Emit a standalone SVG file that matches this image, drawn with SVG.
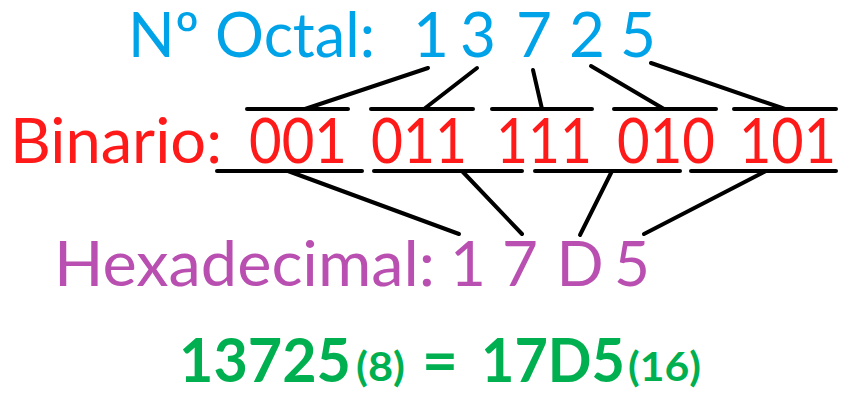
<svg xmlns="http://www.w3.org/2000/svg" width="850" height="400" viewBox="0 0 850 400">
<style>
text{font-family:Lato,"Liberation Sans",sans-serif;}
.oct{fill:#00A2E8;font-size:62px;}
.bin{fill:#FF1A1A;font-size:62px;}
.hex{fill:#B94FB0;font-size:62px;}
.res{fill:#00B050;font-weight:bold;font-size:62px;}
.sub{fill:#00B050;font-weight:bold;font-size:40px;}
.c{text-anchor:middle;}
.ln line{stroke:#000;stroke-width:4;stroke-linecap:round;}
</style>
<rect width="850" height="400" fill="#fff"/>
<g id="octal">
<text class="oct" x="128" y="57" textLength="247" lengthAdjust="spacingAndGlyphs">Nº Octal:</text>
<text class="oct c" x="431" y="57">1</text>
<text class="oct c" x="478" y="57">3</text>
<text class="oct c" x="534" y="57">7</text>
<text class="oct c" x="587" y="57">2</text>
<text class="oct c" x="638" y="57">5</text>
</g>
<g id="binario">
<text class="bin" x="10" y="163" textLength="212" lengthAdjust="spacingAndGlyphs">Binario:</text>
<text class="bin" x="249" y="163" textLength="98" lengthAdjust="spacingAndGlyphs">001</text>
<text class="bin" x="371" y="163" textLength="96" lengthAdjust="spacingAndGlyphs">011</text>
<text class="bin" x="496" y="163" textLength="96" lengthAdjust="spacingAndGlyphs">111</text>
<text class="bin" x="617" y="163" textLength="98" lengthAdjust="spacingAndGlyphs">010</text>
<text class="bin" x="739" y="163" textLength="97" lengthAdjust="spacingAndGlyphs">101</text>
</g>
<g id="hexadecimal">
<text class="hex" x="54" y="286" textLength="381" lengthAdjust="spacingAndGlyphs">Hexadecimal:</text>
<text class="hex c" x="468" y="286">1</text>
<text class="hex c" x="520" y="286">7</text>
<text class="hex c" x="580" y="286">D</text>
<text class="hex c" x="632" y="286">5</text>
</g>
<g id="resultado">
<text class="res" x="179" y="382" textLength="172" lengthAdjust="spacingAndGlyphs">13725</text>
<text class="sub" x="356" y="381" textLength="49" lengthAdjust="spacingAndGlyphs">(8)</text>
<text class="res c" x="440" y="382">=</text>
<text class="res" x="481" y="382" textLength="144" lengthAdjust="spacingAndGlyphs">17D5</text>
<text class="sub" x="628" y="381" textLength="73" lengthAdjust="spacingAndGlyphs">(16)</text>
</g>
<g id="connectors" class="ln">
<line x1="247" y1="109" x2="348" y2="109"/>
<line x1="371" y1="109" x2="473" y2="109"/>
<line x1="492" y1="109" x2="592" y2="109"/>
<line x1="614" y1="109" x2="716" y2="109"/>
<line x1="734" y1="109" x2="836" y2="109"/>
<line x1="217" y1="171" x2="362" y2="171"/>
<line x1="374" y1="171" x2="522" y2="171"/>
<line x1="535" y1="171" x2="680" y2="171"/>
<line x1="691" y1="171" x2="836" y2="171"/>
<line x1="428" y1="68" x2="305" y2="109"/>
<line x1="477" y1="68" x2="424" y2="109"/>
<line x1="533" y1="70" x2="542" y2="109"/>
<line x1="591" y1="66" x2="664" y2="109"/>
<line x1="651" y1="63" x2="785" y2="109"/>
<line x1="288" y1="171" x2="459" y2="234"/>
<line x1="462" y1="171" x2="522" y2="234"/>
<line x1="612" y1="171" x2="580" y2="235"/>
<line x1="766" y1="171" x2="644" y2="234"/>
</g>
</svg>
